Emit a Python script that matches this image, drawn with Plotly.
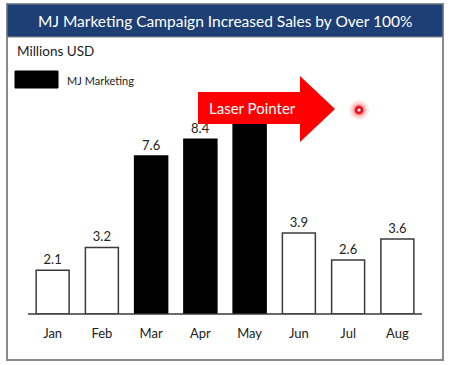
import plotly.graph_objects as go

months = ["Jan", "Feb", "Mar", "Apr", "May", "Jun", "Jul", "Aug"]
sales = [2.1, 3.2, 7.6, 8.4, 9.1, 3.9, 2.6, 3.6]
campaign_months = ["Mar", "Apr", "May"]
hidden_label_months = ["May"]  # label sits behind the arrow in the reference
title_text = "MJ Marketing Campaign Increased Sales by Over 100%"
unit_text = "Millions USD"
legend_text = "MJ Marketing"
arrow_text = "Laser Pointer"

W, H = 450, 365
L, R, T, B = 28, 422, 106, 314  # plot area in pixels
FONT = "Lato"


def px(x):
    return (x - L) / (R - L)


def py(y):
    return (B - y) / (B - T)


def label(m, v):
    return "" if m in hidden_label_months else f"{v:.1f}"


camp = [(m, v) for m, v in zip(months, sales) if m in campaign_months]
oth = [(m, v) for m, v in zip(months, sales) if m not in campaign_months]

fig = go.Figure()
fig.add_trace(go.Bar(
    x=[m for m, _ in oth], y=[v for _, v in oth], name="Other",
    marker=dict(color="white", line=dict(color="#3a3a3a", width=1.5)),
    text=[label(m, v) for m, v in oth], textposition="outside",
    textfont=dict(size=13, color="#222", family=FONT),
    cliponaxis=False, showlegend=False,
))
fig.add_trace(go.Bar(
    x=[m for m, _ in camp], y=[v for _, v in camp], name=legend_text,
    marker=dict(color="black", line=dict(color="black", width=1.5)),
    text=[label(m, v) for m, v in camp], textposition="outside",
    textfont=dict(size=13, color="#222", family=FONT),
    cliponaxis=False, showlegend=False,
))

shapes = []
shapes.append(dict(type="rect", xref="paper", yref="paper",
                   x0=px(7), x1=px(443), y0=py(360), y1=py(4),
                   line=dict(color="#8a8a8a", width=2), fillcolor="rgba(0,0,0,0)", layer="below"))
shapes.append(dict(type="rect", xref="paper", yref="paper",
                   x0=px(7), x1=px(443), y0=py(37), y1=py(4),
                   line=dict(color="#8a8a8a", width=1), fillcolor="#1d3f75", layer="below"))
shapes.append(dict(type="line", xref="paper", yref="paper",
                   x0=px(28), x1=px(422), y0=py(314), y1=py(314),
                   line=dict(color="#3a3a3a", width=1.5), layer="above"))
shapes.append(dict(type="rect", xref="paper", yref="paper",
                   x0=px(15), x1=px(58), y0=py(88), y1=py(71),
                   line=dict(color="black", width=1), fillcolor="black"))
pts = [(198, 92), (300, 92), (300, 76), (335, 109), (300, 142), (300, 124), (198, 124)]
path = "M " + " L ".join(f"{px(a):.5f},{py(b):.5f}" for a, b in pts) + " Z"
shapes.append(dict(type="path", xref="paper", yref="paper", path=path,
                   fillcolor="#ff0000", line=dict(width=0), layer="above"))
cx, cy = 359, 110
for r, col in [(10, "rgba(255,0,0,0.08)"), (8, "rgba(255,0,0,0.12)"), (6, "rgba(255,0,0,0.25)"),
               (4.3, "#e8101c"), (1.6, "white")]:
    shapes.append(dict(type="circle", xref="paper", yref="paper",
                       x0=px(cx - r), x1=px(cx + r), y0=py(cy + r), y1=py(cy - r),
                       fillcolor=col, line=dict(width=0), layer="above"))

annotations = [
    dict(text=title_text, xref="paper", yref="paper", x=px(225), y=py(20.5),
         showarrow=False, font=dict(size=15.5, color="white", family=FONT),
         xanchor="center", yanchor="middle"),
    dict(text=unit_text, xref="paper", yref="paper", x=px(15), y=py(51),
         showarrow=False, font=dict(size=13.5, color="#222", family=FONT),
         xanchor="left", yanchor="middle"),
    dict(text=legend_text, xref="paper", yref="paper", x=px(65), y=py(80),
         showarrow=False, font=dict(size=11, color="#222", family=FONT),
         xanchor="left", yanchor="middle"),
    dict(text=arrow_text, xref="paper", yref="paper", x=px(207), y=py(108.5),
         showarrow=False, font=dict(size=15, color="white", family=FONT),
         xanchor="left", yanchor="middle"),
]

fig.update_layout(
    width=W, height=H,
    margin=dict(l=L, r=W - R, t=T, b=H - B, pad=0),
    paper_bgcolor="white", plot_bgcolor="white",
    bargap=0.33, barmode="overlay",
    shapes=shapes, annotations=annotations,
    font=dict(family=FONT),
    xaxis=dict(categoryorder="array", categoryarray=months, showgrid=False,
               showline=False, zeroline=False, ticks="",
               tickfont=dict(size=13, color="#222", family=FONT), ticklabelstandoff=10,
               fixedrange=True),
    yaxis=dict(range=[0, 10], visible=False, showgrid=False, zeroline=False, fixedrange=True),
)

fig.write_html("out.html", config={"displayModeBar": False})
